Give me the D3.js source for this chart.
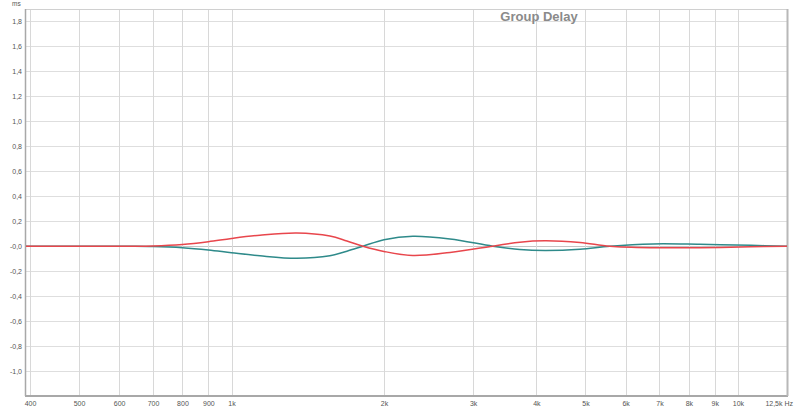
<!DOCTYPE html>
<html><head><meta charset="utf-8">
<script src="https://cdn.jsdelivr.net/npm/d3@7"></script>
<style>body{margin:0;background:#fff}svg{display:block}text{font-family:"Liberation Sans",Arial,sans-serif}</style>
</head><body>
<svg id="c" width="800" height="410"></svg>
<script>
const title = "Group Delay";
const xTicks = [400,500,600,700,800,900,1000,2000,3000,4000,5000,6000,7000,8000,9000,10000];
const xTickLabels = ["400","500","600","700","800","900","1k","2k","3k","4k","5k","6k","7k","8k","9k","10k"];
const yTicks = [-1.0,-0.8,-0.6,-0.4,-0.2,0,0.2,0.4,0.6,0.8,1.0,1.2,1.4,1.6,1.8];
const yTickLabels = ["-1,0","-0,8","-0,6","-0,4","-0,2","-0,0","0,2","0,4","0,6","0,8","1,0","1,2","1,4","1,6","1,8"];
const freqs  = [392,500,630,700,800,900,1000,1138,1345,1564,1690,1818,2000,2281,2700,3281,3710,4160,4876,5588,6800,8400,10600,12500];
const redVals  = [0,0,0,0.002,0.014,0.036,0.062,0.088,0.106,0.082,0.042,0,-0.042,-0.075,-0.05,0,0.032,0.043,0.03,0,-0.012,-0.012,-0.005,0];
const tealVals = [0,0,0,-0.002,-0.012,-0.03,-0.052,-0.077,-0.097,-0.077,-0.04,0,0.052,0.08,0.058,0,-0.027,-0.035,-0.025,0,0.018,0.015,0.007,0];

const svg = d3.select("#c");
const x = d3.scaleLog().domain([400,12500]).range([30,787]);
const y = d3.scaleLinear().domain([-1.2,1.9]).range([396,9]);
const L = 25, R = 787, T = 9, B = 396;

// grid
svg.append("g").selectAll("line").data(yTicks).join("line")
  .attr("x1",L).attr("x2",R).attr("y1",d=>Math.round(y(d))+0.5).attr("y2",d=>Math.round(y(d))+0.5)
  .attr("stroke",d=>d===0?"#c4c4c4":"#dedede").attr("stroke-width",1);
svg.append("g").selectAll("line").data(xTicks).join("line")
  .attr("y1",T).attr("y2",B).attr("x1",d=>Math.round(x(d))+0.5).attr("x2",d=>Math.round(x(d))+0.5)
  .attr("stroke","#d8d8d8").attr("stroke-width",1);

// frame
svg.append("line").attr("x1",L).attr("x2",R).attr("y1",T+0.5).attr("y2",T+0.5).attr("stroke","#d0d0d0");
svg.append("line").attr("x1",L+0.5).attr("x2",L+0.5).attr("y1",T).attr("y2",B).attr("stroke","#a8a8a8").attr("stroke-width",1.5);
svg.append("line").attr("x1",L).attr("x2",R+1).attr("y1",B).attr("y2",B).attr("stroke","#a8a8a8").attr("stroke-width",2);
svg.append("line").attr("x1",R+0.5).attr("x2",R+0.5).attr("y1",T).attr("y2",B).attr("stroke","#b8b8b8").attr("stroke-width",2);

// y labels
svg.append("g").selectAll("text").data(yTicks).join("text")
  .attr("x",22).attr("y",d=>y(d)+2.5).attr("text-anchor","end")
  .attr("font-size",7).attr("fill","#555").text((d,i)=>yTickLabels[i]);
svg.append("text").attr("x",12).attr("y",6).attr("font-size",6.5).attr("fill","#555").text("ms");

// x labels
svg.append("g").selectAll("text").data(xTicks).join("text")
  .attr("x",d=>x(d)+0.5).attr("y",406).attr("text-anchor","middle")
  .attr("font-size",7).attr("fill","#555").text((d,i)=>xTickLabels[i]);
svg.append("text").attr("x",793).attr("y",406).attr("text-anchor","end")
  .attr("font-size",7).attr("fill","#555").text("12,5k Hz");

// title
svg.append("text").attr("x",539).attr("y",21).attr("text-anchor","middle")
  .attr("font-size",13).attr("font-weight","bold").attr("fill","#8a8a8a").text(title);

// curves
svg.append("clipPath").attr("id","cp").append("rect").attr("x",L+1).attr("y",T).attr("width",R-L-1).attr("height",B-T);
const line = d3.line().x(d=>x(d[0])).y(d=>y(d[1])).curve(d3.curveCatmullRom.alpha(0.5));
svg.append("path").datum(freqs.map((f,i)=>[f,tealVals[i]])).attr("d",line)
  .attr("fill","none").attr("stroke","#2e8a8a").attr("stroke-width",1.5).attr("clip-path","url(#cp)");
svg.append("path").datum(freqs.map((f,i)=>[f,redVals[i]])).attr("d",line)
  .attr("fill","none").attr("stroke","#e8464c").attr("stroke-width",1.5).attr("clip-path","url(#cp)");
</script>
</body></html>
